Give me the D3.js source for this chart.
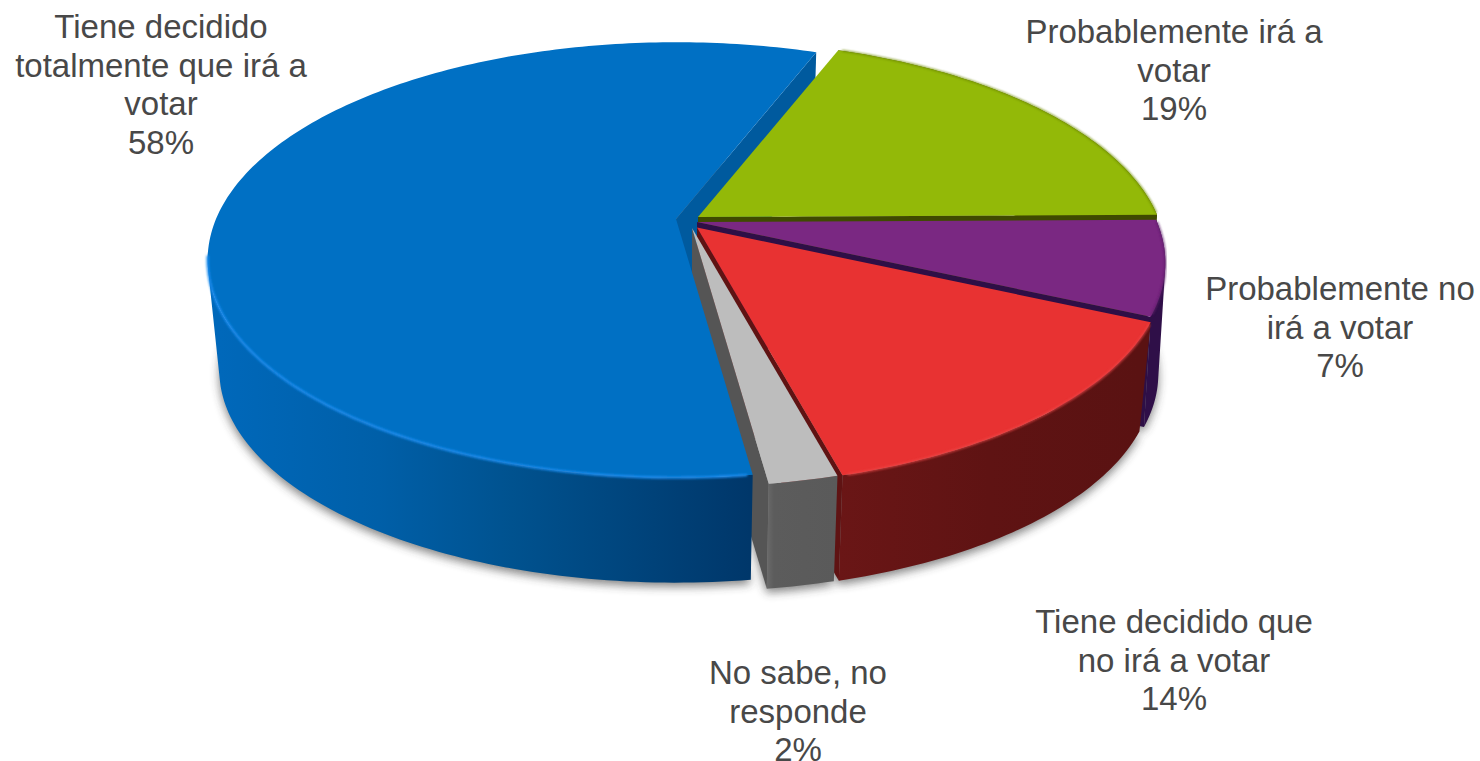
<!DOCTYPE html>
<html><head><meta charset="utf-8">
<script src="https://d3js.org/d3.v7.min.js"></script>
<style>html,body{margin:0;padding:0;background:#fff;overflow:hidden}text{font-family:"Liberation Sans",Arial,sans-serif}</style>
</head><body><svg id="c" width="1480" height="761"></svg>
<script>
const categories = [
  ["Tiene decidido","totalmente que irá a","votar"],
  ["Probablemente irá a","votar"],
  ["Probablemente no","irá a votar"],
  ["Tiene decidido que","no irá a votar"],
  ["No sabe, no","responde"]
];
const values = [58,19,7,14,2];
const pieStartDeg = 172.2;

// styling / layout
const topCol  = ["#0070c4","#93b908","#7a2882","#e83232","#bdbdbd"];
const wallCol = ["#005a9e","#3f4a00","#2e0f46","#5f1313","#555555"];
const rimCol  = ["#1b8df0","#6f8c05","#5c1d68","#f04a4a","#cccccc"];
const apex = [[676,219],[698,217],[697,222],[697,227.5],[692,228]];
const shrinks = [0.975,0.975,0.985,0.975,0.975];
const labelPos = [[161,38],[1174,43],[1340,300],[1174,633],[798,684]];
const a=460,b=210,k=0.188,depth=111.5,lineH=38.6,fontSize=33;
const blueWallEndDeg = 262;

const svg=d3.select("#c");
const defs=svg.append("defs");
const blur=defs.append("filter").attr("id","sh").attr("x","-10%").attr("y","-10%").attr("width","120%").attr("height","120%");
blur.append("feGaussianBlur").attr("stdDeviation",5);
const soft=defs.append("filter").attr("id","soft").attr("x","-10%").attr("y","-10%").attr("width","120%").attr("height","120%");
soft.append("feGaussianBlur").attr("stdDeviation",0.8);

function grad(id,x1,x2,stops){
  const g=defs.append("linearGradient").attr("id",id).attr("gradientUnits","userSpaceOnUse")
    .attr("x1",x1).attr("x2",x2).attr("y1",0).attr("y2",0);
  stops.forEach(s=>g.append("stop").attr("offset",s[0]).attr("stop-color",s[1]));
  return `url(#${id})`;
}
const outerFill=[
  grad("g0",220,750,[[0,"#0068ba"],[0.3,"#005fa8"],[0.55,"#00528f"],[1,"#00376a"]]),
  wallCol[1],
  "#2f0f48",
  grad("g3",838,1140,[[0,"#6a1616"],[0.5,"#5f1313"],[1,"#5a1212"]]),
  grad("g4",767,836,[[0,"#6a6a6a"],[0.1,"#5c5c5c"],[1,"#5a5a5a"]])
];

const arcs=d3.pie().sort(null).value(d=>d)
  .startAngle(pieStartDeg*Math.PI/180)
  .endAngle(pieStartDeg*Math.PI/180+2*Math.PI)(values);

function proj(i,th,r,z){
  const X=r*Math.sin(th),Y=-r*Math.cos(th),w=1-k*Y,s=z?shrinks[i]:1;
  return [apex[i][0]+s*a*X/w, apex[i][1]+(z?depth:0)+s*b*Y/w];
}
function arcPts(i,t0,t1,z){
  const n=Math.max(2,Math.ceil(Math.abs(t1-t0)/(Math.PI/180)));
  return d3.range(n+1).map(j=>proj(i,t0+(t1-t0)*j/n,1,z));
}
const line=d3.line();
const poly=p=>line(p)+"Z";
const wedge=(i,z)=>poly([proj(i,0,0,z),...arcPts(i,arcs[i].startAngle,arcs[i].endAngle,z)]);
// union of per-angle quads, so the silhouette between rim and floor is filled
function outer(i,t0,t1){
  const A=arcPts(i,t0,t1,0),B=arcPts(i,t0,t1,1);
  let d="";
  for(let j=0;j<A.length-1;j++){
    const q=[A[j],A[j+1],B[j+1],B[j]];
    const cross=(q[1][0]-q[0][0])*(q[2][1]-q[0][1])-(q[1][1]-q[0][1])*(q[2][0]-q[0][0]);
    d+=poly(cross<0?q.slice().reverse():q);
  }
  return d;
}
const cut=(i,t)=>poly([proj(i,0,0,0),proj(i,t,1,0),proj(i,t,1,1),proj(i,0,0,1)]);

// soft shadow under the pie
svg.append("g").attr("filter","url(#sh)").attr("opacity",0.6)
  .attr("transform","translate(0,4)")
  .selectAll("path").data(arcs).join("path")
  .attr("d",(d,i)=>wedge(i,1)).attr("fill","#333");

function drawSlice(i,withEndWall,wallEnd){
  const g=svg.append("g");
  if(withEndWall) g.append("path").attr("d",cut(i,arcs[i].endAngle)).attr("fill",wallCol[i]);
  g.append("path").attr("d",outer(i,arcs[i].startAngle,wallEnd===undefined?arcs[i].endAngle:wallEnd))
    .attr("fill",outerFill[i]);
  g.append("path").attr("d",wedge(i,0)).attr("fill",topCol[i]);
}
function rim(i,t0,t1,w,op){
  svg.append("path").attr("d",line(arcPts(i,t0,t1,0))).attr("fill","none")
    .attr("stroke",rimCol[i]).attr("stroke-width",w).attr("opacity",op).attr("filter","url(#soft)");
}

// blue's cut wall sits behind every other slice; blue itself sits in front of grey's wall
svg.append("path").attr("d",cut(0,arcs[0].endAngle)).attr("fill",wallCol[0]);
[1,2,3].forEach(i=>{
  drawSlice(i,true);
  rim(i,arcs[i].startAngle+0.01,arcs[i].endAngle-0.01,2,0.8);
});
drawSlice(4,true);
drawSlice(0,false,blueWallEndDeg*Math.PI/180);
rim(0,arcs[0].startAngle+0.01,blueWallEndDeg*Math.PI/180-0.03,2.4,1);

// labels
const fmt=d3.format(".0f");
const total=d3.sum(values);
const labels=svg.append("g").attr("text-anchor","middle").attr("fill","#484848").attr("font-size",fontSize);
categories.forEach((lines,i)=>{
  const all=[...lines,fmt(values[i]/total*100)+"%"];
  const t=labels.append("text").attr("x",labelPos[i][0]).attr("y",labelPos[i][1]);
  all.forEach((l,j)=>t.append("tspan").attr("x",labelPos[i][0]).attr("y",labelPos[i][1]+j*lineH).text(l));
});
</script></body></html>
